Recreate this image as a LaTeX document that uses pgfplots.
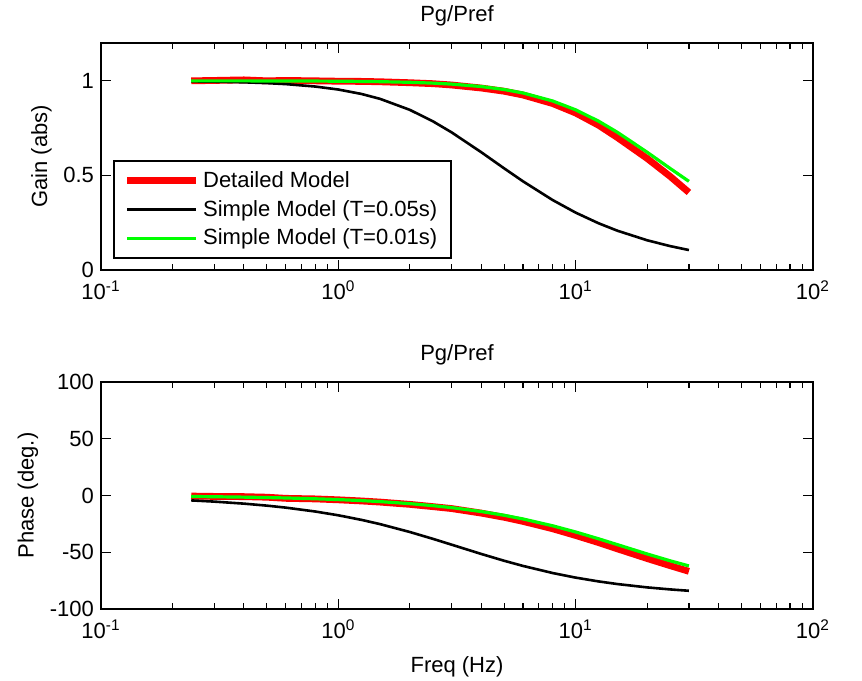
\documentclass[border=0pt]{standalone}
\usepackage{fontspec}
\setmainfont{Liberation Sans}
\usepackage{pgfplots}
\usepackage{pgfplotstable}
\pgfplotsset{compat=1.18}

% frequency response, f in Hz, gain in abs, phase in degrees
\pgfplotstableread{
f     gain   phase
0.24  1.000  -0.5
0.30  1.002  -0.8
0.40  1.005  -1.0
0.50  1.000  -1.5
0.60  1.002  -2.5
0.80  1.000  -3.0
1.00  0.998  -3.8
1.25  0.997  -4.8
1.50  0.995  -5.8
2.00  0.990  -7.8
2.50  0.985  -9.8
3.00  0.978  -11.5
4.00  0.962  -15.5
5.00  0.945  -19.2
6.00  0.925  -22.8
8.00  0.880  -29.3
10.0  0.830  -35.2
12.5  0.765  -41.5
15.0  0.700  -47.0
20.0  0.590  -55.5
25.0  0.495  -61.8
30.0  0.410  -66.8
}\tabdetailed

\pgfplotstableread{
f     gain    phase
0.24  0.9972  -4.31
0.30  0.9956  -5.38
0.40  0.9922  -7.16
0.50  0.9879  -8.93
0.60  0.9827  -10.67
0.80  0.9698  -14.11
1.00  0.9540  -17.44
1.25  0.9308  -21.44
1.50  0.9046  -25.23
2.00  0.8467  -32.14
2.50  0.7864  -38.15
3.00  0.7277  -43.31
4.00  0.6227  -51.49
5.00  0.5370  -57.52
6.00  0.4687  -62.05
8.00  0.3697  -68.30
10.0  0.3033  -72.34
12.5  0.2468  -75.71
15.0  0.2076  -78.02
20.0  0.1572  -80.96
25.0  0.1263  -82.74
30.0  0.1055  -83.94
}\tabslow

\pgfplotstableread{
f     gain    phase
0.24  0.9999  -0.86
0.30  0.9998  -1.08
0.40  0.9997  -1.44
0.50  0.9995  -1.80
0.60  0.9993  -2.16
0.80  0.9987  -2.88
1.00  0.9980  -3.60
1.25  0.9969  -4.49
1.50  0.9956  -5.38
2.00  0.9922  -7.16
2.50  0.9879  -8.93
3.00  0.9827  -10.67
4.00  0.9699  -14.11
5.00  0.9540  -17.44
6.00  0.9357  -20.66
8.00  0.8935  -26.69
10.0  0.8467  -32.14
12.5  0.7865  -38.15
15.0  0.7277  -43.31
20.0  0.6227  -51.49
25.0  0.5370  -57.52
30.0  0.4686  -62.05
}\tabfast

\newcommand{\fsz}{\fontsize{11}{13}\selectfont}

\begin{document}
\begin{tikzpicture}
\path[use as bounding box] (-50.5pt,-205pt) rectangle (380.5pt,135pt);

\begin{axis}[
  scale only axis, width=356pt, height=113.5pt,
  xmode=log, xmin=0.1, xmax=100,
  xtick={0.1,1,10,100},
  xticklabels={10\textsuperscript{-1},10\textsuperscript{0},10\textsuperscript{1},10\textsuperscript{2}},
  minor xtick={0.2,0.3,0.4,0.5,0.6,0.7,0.8,0.9,2,3,4,5,6,7,8,9,20,30,40,50,60,70,80,90},
  tick align=inside,
  major tick length=5pt, minor tick length=3pt,
  axis line style={line width=1pt},
  tick style={black, line width=0.6pt},
  tick label style={font=\fsz},
  xticklabel style={yshift=-2pt},
  label style={font=\fsz},
  title style={font=\fsz, yshift=-1pt},
  ylabel style={yshift=-1pt},
  at={(0,0)}, anchor=south west,
  ymin=0, ymax=1.2,
  ytick={0,0.5,1}, yticklabels={0,0.5,1},
  title={Pg/Pref},
  ylabel={Gain (abs)},
  legend cell align=left,
  legend style={at={(0.0169,0.0485)}, anchor=south west,
    draw=black, line width=1pt, font=\fsz,
    inner xsep=5pt, inner ysep=3pt, row sep=1pt},
  legend image post style={xscale=2},
]
\addplot[red, line width=3.4pt] table[x=f, y=gain] {\tabdetailed};
\addplot[black, line width=1.3pt] table[x=f, y=gain] {\tabslow};
\addplot[green, line width=1.6pt] table[x=f, y=gain] {\tabfast};
\legend{Detailed Model, Simple Model (T=0.05s), Simple Model (T=0.01s)}
\end{axis}

\begin{axis}[
  scale only axis, width=356pt, height=113.5pt,
  xmode=log, xmin=0.1, xmax=100,
  xtick={0.1,1,10,100},
  xticklabels={10\textsuperscript{-1},10\textsuperscript{0},10\textsuperscript{1},10\textsuperscript{2}},
  minor xtick={0.2,0.3,0.4,0.5,0.6,0.7,0.8,0.9,2,3,4,5,6,7,8,9,20,30,40,50,60,70,80,90},
  tick align=inside,
  major tick length=5pt, minor tick length=3pt,
  axis line style={line width=1pt},
  tick style={black, line width=0.6pt},
  tick label style={font=\fsz},
  xticklabel style={yshift=-2pt},
  label style={font=\fsz},
  title style={font=\fsz, yshift=-1pt},
  ylabel style={yshift=-1pt},
  xlabel style={yshift=-2pt},
  at={(0,-169.5pt)}, anchor=south west,
  ymin=-100, ymax=100,
  ytick={-100,-50,0,50,100}, yticklabels={-100,-50,0,50,100},
  title={Pg/Pref},
  ylabel={Phase (deg.)},
  xlabel={Freq (Hz)},
]
\addplot[red, line width=3.4pt] table[x=f, y=phase] {\tabdetailed};
\addplot[black, line width=1.3pt] table[x=f, y=phase] {\tabslow};
\addplot[green, line width=1.6pt] table[x=f, y=phase] {\tabfast};
\end{axis}
\end{tikzpicture}
\end{document}
